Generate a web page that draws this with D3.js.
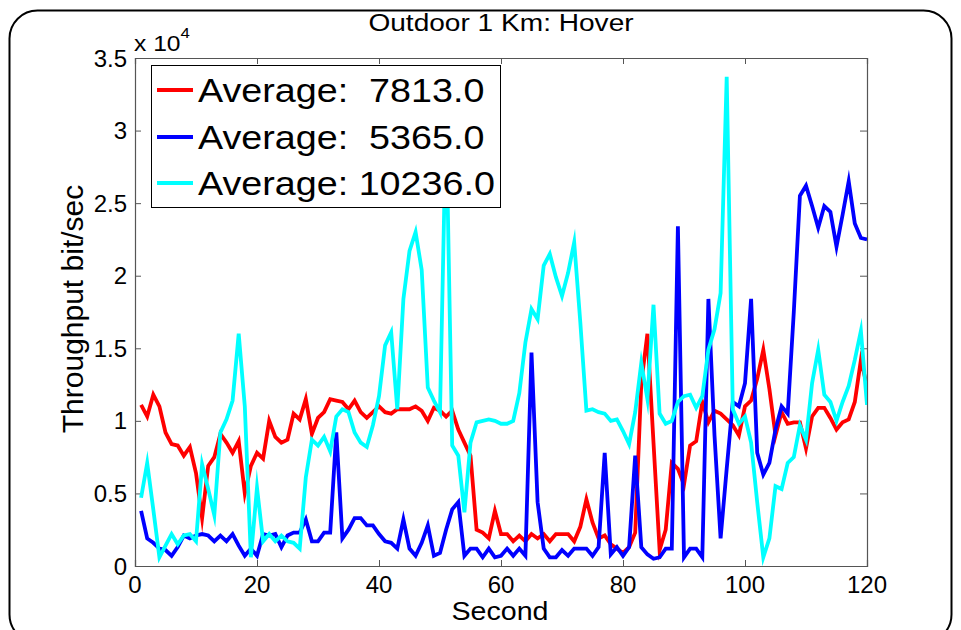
<!DOCTYPE html>
<html>
<head>
<meta charset="utf-8">
<script src="https://cdnjs.cloudflare.com/ajax/libs/d3/7.8.5/d3.min.js"></script>
<style>
  body { margin: 0; background: #fff; }
  text { font-family: "Liberation Sans", Arial, sans-serif; fill: #000; }
</style>
</head>
<body>
<div id="chart"></div>
<script>
// values, one per second (1..120)
var seconds = d3.range(1, 121);

var redValues = [11100, 10300, 11800, 11000, 9200, 8400, 8300, 7600, 8200, 6400,
  3300, 6900, 7500, 9100, 8500, 7800, 8600, 5000, 6900, 7800,
  7400, 10000, 8900, 8500, 8700, 10500, 10100, 11500, 9100, 10200,
  10600, 11500, 11400, 11300, 10800, 11400, 10600, 10200, 10600, 11000,
  10600, 10500, 10800, 10800, 10800, 11000, 10700, 10000, 10900, 10700,
  10300, 10700, 9400, 8500, 7600, 2500, 2300, 1900, 3800, 2200,
  2200, 1700, 2100, 1700, 2200, 1900, 2200, 1700, 2200, 2200,
  2200, 1700, 2700, 4600, 3000, 1900, 2100, 1500, 1200, 900,
  1300, 2300, 12600, 16000, 8500, 1100, 2500, 7100, 6700, 5600,
  8300, 8600, 11300, 9900, 10700, 10500, 10100, 9700, 9000, 11000,
  11400, 12900, 14900, 12200, 9000, 10600, 9800, 9900, 9900, 8100,
  10300, 10900, 10900, 10200, 9400, 9900, 10100, 11300, 14200, 12400];

var blueValues = [3800, 1900, 1600, 1200, 1100, 700, 1300, 2100, 1900, 2100,
  2200, 2100, 1700, 2100, 1700, 2200, 1400, 700, 1200, 700,
  2200, 2100, 2200, 1300, 2100, 2300, 2300, 3200, 1700, 1700,
  2300, 2300, 9200, 1900, 2500, 3300, 3300, 2800, 2800, 2200,
  1700, 1600, 1200, 3200, 1200, 700, 1600, 2800, 700, 900,
  2500, 3900, 4400, 700, 1200, 1200, 600, 1200, 600, 700,
  1200, 700, 1200, 700, 14700, 4400, 1200, 600, 600, 1100,
  700, 1200, 1200, 1200, 700, 1300, 7800, 800, 1300, 700,
  1300, 7600, 1300, 800, 500, 600, 1200, 1200, 23400, 600,
  1200, 1200, 600, 18400, 9000, 1900, 6700, 11300, 11000, 12600,
  18400, 7800, 6300, 7100, 9400, 11000, 10500, 17500, 25500, 26200,
  24800, 23300, 24800, 24400, 22000, 24200, 26500, 23600, 22600, 22500];

var cyanValues = [4700, 7100, 3900, 600, 1400, 2200, 1500, 2100, 2200, 1700,
  7000, 5300, 3500, 9200, 10100, 11400, 16000, 11000, 600, 5400,
  1700, 2200, 1700, 2100, 1700, 1600, 1200, 6100, 8700, 8300,
  8900, 7900, 10300, 10800, 10600, 9200, 8500, 8200, 9700, 11700,
  15200, 16100, 10800, 18400, 21700, 23000, 20400, 12300, 11400, 10600,
  31000, 8300, 7600, 3700, 8500, 9900, 10000, 10100, 10000, 9800,
  9800, 10000, 11900, 15400, 17700, 17000, 20700, 21500, 19900, 18600,
  20200, 22300, 16800, 10700, 10800, 10600, 10500, 10000, 10100, 9300,
  8400, 10600, 14000, 11500, 18000, 10500, 9800, 10000, 11300, 11700,
  11800, 10900, 11700, 14900, 16300, 18800, 33700, 10800, 9800, 10300,
  8500, 4400, 600, 1900, 5500, 5300, 7100, 7500, 9700, 8700,
  12600, 14900, 11800, 11300, 10000, 11300, 12400, 14200, 16200, 11100];

var seriesColors = ["#ff0000", "#0000ff", "#00ffff"];
var averages = [7813.0, 5365.0, 10236.0];
var xTicks = [0, 20, 40, 60, 80, 100, 120];
var yTicks = [0, 5000, 10000, 15000, 20000, 25000, 30000, 35000];
var yTickLabels = ["0", "0.5", "1", "1.5", "2", "2.5", "3", "3.5"];

var svgWidth = 961;
var svgHeight = 630;
var plot = { left: 135, right: 867, top: 58, bottom: 566 };

var svg = d3.select("#chart")
  .append("svg")
  .attr("width", svgWidth)
  .attr("height", svgHeight);

svg.append("rect")
  .attr("width", svgWidth)
  .attr("height", svgHeight)
  .attr("fill", "#fff");

// rounded figure frame
svg.append("rect")
  .attr("x", 9.5)
  .attr("y", 10.5)
  .attr("width", 942)
  .attr("height", 632)
  .attr("rx", 28)
  .attr("fill", "none")
  .attr("stroke", "#000")
  .attr("stroke-width", 2);

var x = d3.scaleLinear().domain([0, 120]).range([plot.left, plot.right]);
var y = d3.scaleLinear().domain([0, 35000]).range([plot.bottom, plot.top]);

svg.append("clipPath").attr("id", "plotClip")
  .append("rect")
  .attr("x", plot.left)
  .attr("y", plot.top)
  .attr("width", plot.right - plot.left)
  .attr("height", plot.bottom - plot.top);

// axes, ticks pointing inwards on all four sides
var axisColor = "#555";
var bottomAxis = d3.axisBottom(x).tickValues(xTicks).tickSize(-6).tickFormat("");
var topAxis = d3.axisTop(x).tickValues(xTicks).tickSize(-6).tickFormat("");
var leftAxis = d3.axisLeft(y).tickValues(yTicks).tickSize(-6).tickFormat("");
var rightAxis = d3.axisRight(y).tickValues(yTicks).tickSize(-7).tickFormat("");

[[bottomAxis, `translate(0, ${plot.bottom})`], [topAxis, `translate(0, ${plot.top})`],
 [leftAxis, `translate(${plot.left}, 0)`], [rightAxis, `translate(${plot.right}, 0)`]]
  .forEach(function(a) {
    var g = svg.append("g").attr("transform", a[1]).call(a[0]);
    g.select(".domain").attr("stroke", axisColor).attr("stroke-width", 1.2);
    g.selectAll(".tick line").attr("stroke", axisColor);
  });

// tick labels
svg.selectAll(".xlab").data(xTicks).enter()
  .append("text")
  .attr("x", d => x(d))
  .attr("y", 593)
  .attr("text-anchor", "middle")
  .style("font-size", "24px")
  .text(d => d);

svg.selectAll(".ylab").data(yTicks).enter()
  .append("text")
  .attr("x", 127)
  .attr("y", d => y(d))
  .attr("dy", "0.36em")
  .attr("text-anchor", "end")
  .style("font-size", "24px")
  .text((d, i) => yTickLabels[i]);

// exponent note
var expo = svg.append("text")
  .attr("transform", "translate(134, 51) scale(1.12, 1)")
  .style("font-size", "22px");
expo.append("tspan").text("x 10");
expo.append("tspan").attr("dy", -13).style("font-size", "15px").text("4");

// lines
var line = d3.line()
  .x((d, i) => x(seconds[i]))
  .y(d => y(d));

var lineGroup = svg.append("g").attr("clip-path", "url(#plotClip)");
[redValues, blueValues, cyanValues].forEach(function(vals, i) {
  lineGroup.append("path")
    .datum(vals)
    .attr("d", line)
    .attr("fill", "none")
    .attr("stroke", seriesColors[i])
    .attr("stroke-width", 3.8)
    .attr("stroke-linejoin", "miter")
    .attr("stroke-miterlimit", 10);
});

// title and axis labels
svg.append("text")
  .attr("transform", "translate(501, 31) scale(1.17, 1)")
  .attr("text-anchor", "middle")
  .style("font-size", "24px")
  .text("Outdoor 1 Km: Hover");

svg.append("text")
  .attr("transform", "translate(500, 620) scale(1.1, 1)")
  .attr("text-anchor", "middle")
  .style("font-size", "26px")
  .text("Second");

svg.append("text")
  .attr("transform", "translate(83, 309) rotate(-90)")
  .attr("text-anchor", "middle")
  .style("font-size", "30px")
  .text("Throughput bit/sec");

// legend
var legend = svg.append("g");
legend.append("rect")
  .attr("x", 151.5)
  .attr("y", 65.5)
  .attr("width", 349)
  .attr("height", 142)
  .attr("fill", "#fff")
  .attr("stroke", "#000")
  .attr("stroke-width", 1);

var rowY = [90, 137, 183];
averages.forEach(function(avg, i) {
  legend.append("line")
    .attr("x1", 157).attr("x2", 193)
    .attr("y1", rowY[i]).attr("y2", rowY[i])
    .attr("stroke", seriesColors[i])
    .attr("stroke-width", 3.8);
  var num = avg.toFixed(1);
  var label = "Average: " + (num.length < 7 ? " " : "") + num;
  legend.append("text")
    .attr("transform", `translate(198, ${rowY[i] + 12}) scale(1.16, 1)`)
    .attr("xml:space", "preserve")
    .style("white-space", "pre")
    .style("font-size", "32.5px")
    .text(label);
});
</script>
</body>
</html>
